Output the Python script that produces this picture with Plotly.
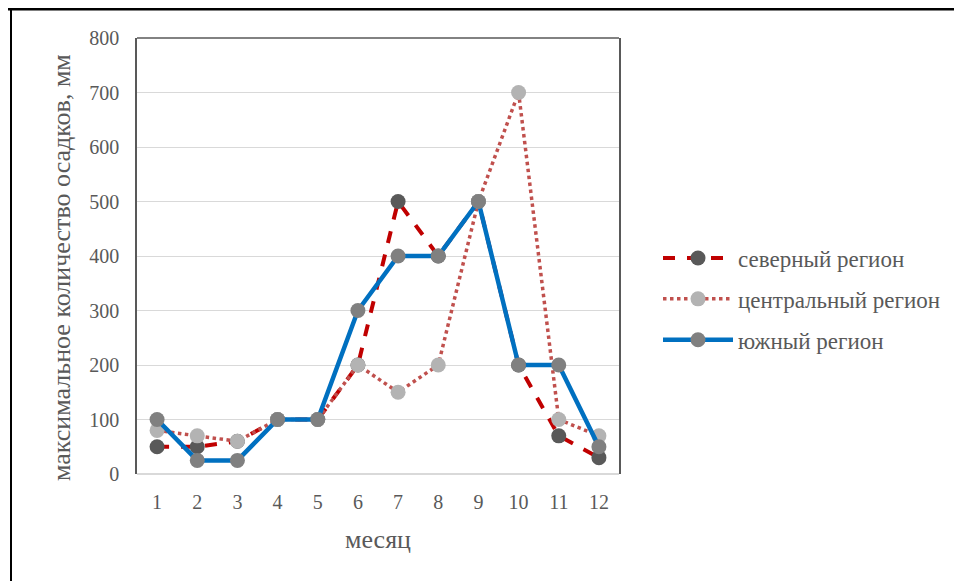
import plotly.graph_objects as go

months = [str(m) for m in range(1, 13)]
north = [50, 50, 60, 100, 100, 200, 500, 400, 500, 200, 70, 30]
central = [80, 70, 60, 100, 100, 200, 150, 200, 500, 700, 100, 70]
south = [100, 25, 25, 100, 100, 300, 400, 400, 500, 200, 200, 50]
names = ["северный регион", "центральный регион", "южный регион"]
y_title = "максимальное количество осадков, мм"
x_title = "месяц"

FONT = "Liberation Serif"
GREY = "#595959"

fig = go.Figure()
fig.add_trace(go.Scatter(
    x=months, y=north, name=names[0], mode="lines+markers", legendgroup="a",
    line=dict(color="#C00000", width=4, dash="dash"),
    marker=dict(color="#595959", size=15)))
fig.add_trace(go.Scatter(
    x=months, y=central, name=names[1], mode="lines+markers", legendgroup="b",
    line=dict(color="#C0504D", width=3.5, dash="dot"),
    marker=dict(color="#B3B3B3", size=15)))
fig.add_trace(go.Scatter(
    x=months, y=south, name=names[2], mode="lines+markers", legendgroup="c",
    line=dict(color="#0070C0", width=4.5),
    marker=dict(color="#808080", size=15)))

OFF = 8  # page body margin
W, H = 962 - OFF, 581 - OFF
L, R, T, B = 137 - OFF, 619 - OFF, 38 - OFF, 474 - OFF
PW, PH = R - L, B - T


def px(xs):
    return (xs - OFF - L) / PW


def py(ys):
    return (B - (ys - OFF)) / PH


fig.update_layout(
    width=W, height=H,
    margin=dict(l=L, r=W - R, t=T, b=H - B),
    paper_bgcolor="white", plot_bgcolor="white",
    font=dict(family=FONT, color=GREY, size=20),
    showlegend=True,
    legend=dict(x=px(658), y=py(299), xanchor="left", yanchor="middle",
                font=dict(size=23, family=FONT, color=GREY), itemwidth=70,
                traceorder="grouped", tracegroupgap=8, bgcolor="rgba(0,0,0,0)"),
    xaxis=dict(type="category", range=[-0.5, 11.5], showline=False, showgrid=False,
               ticks="outside", ticklen=10, tickcolor="rgba(0,0,0,0)",
               tickfont=dict(size=20, family=FONT, color=GREY),
               title=dict(text=x_title, font=dict(size=26, family=FONT, color=GREY), standoff=17)),
    yaxis=dict(range=[0, 800], dtick=100, showline=True, mirror=True,
               linecolor="#595959", linewidth=1.5, gridcolor="#D9D9D9", gridwidth=1,
               zeroline=True, zerolinecolor="#D9D9D9", zerolinewidth=1.5,
               ticks="", ticklabelstandoff=12,
               tickfont=dict(size=20, family=FONT, color=GREY)),
    annotations=[dict(text=y_title, textangle=-90, xref="paper", yref="paper",
                      x=px(61), y=py(268), xanchor="center", yanchor="middle",
                      showarrow=False, font=dict(size=26, family=FONT, color=GREY))],
)

shapes = [
    # top border of plot area
    dict(type="line", xref="paper", yref="paper", x0=0, x1=1, y0=1, y1=1,
         line=dict(color="#595959", width=1.5)),
    # page frame / table fragment
    dict(type="line", xref="paper", yref="paper", x0=px(0), x1=px(962),
         y0=py(9), y1=py(9), line=dict(color="black", width=3)),
    dict(type="line", xref="paper", yref="paper", x0=px(11), x1=px(11),
         y0=py(9), y1=py(581), line=dict(color="black", width=2)),
]
fig.update_layout(shapes=shapes)

fig.write_html("out.html")
